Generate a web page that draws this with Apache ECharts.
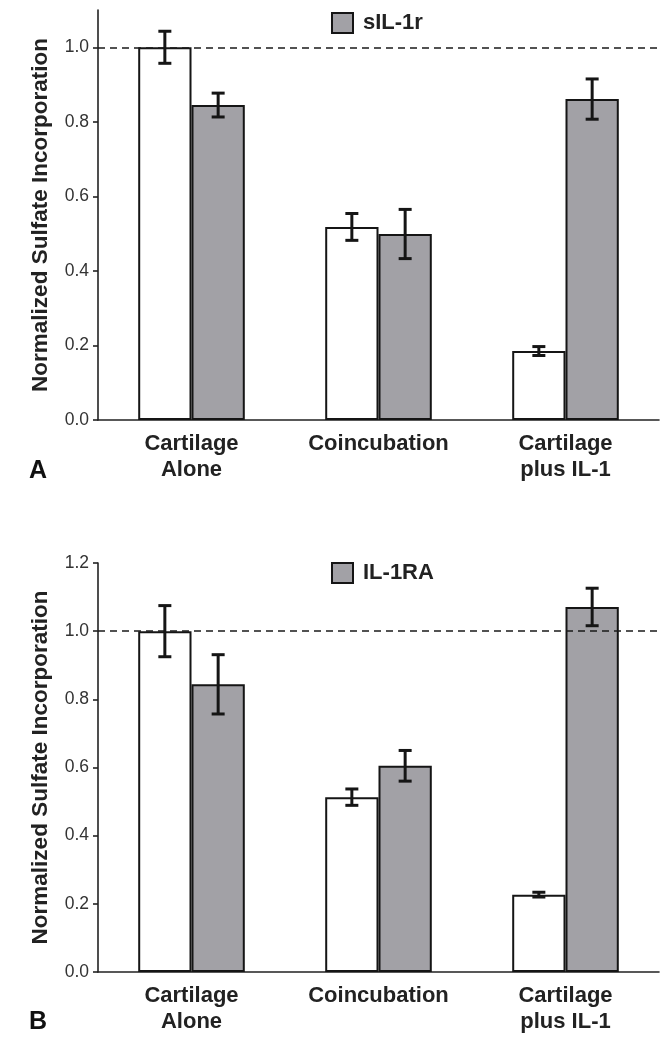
<!DOCTYPE html>
<html>
<head>
<meta charset="utf-8">
<script src="https://cdn.jsdelivr.net/npm/echarts@6/dist/echarts.min.js"></script>
<style>html,body{margin:0;padding:0;background:#fff}#c{width:668px;height:1050px}</style>
</head>
<body>
<div id="c"></div>
<script>
const categories = ['Cartilage\nAlone', 'Coincubation', 'Cartilage\nplus IL-1'];
// Panel A
const ctrlA = [1.0, 0.518, 0.185];
const ctrlAErr = [0.043, 0.036, 0.012];
const sIL1r = [0.845, 0.499, 0.861];
const sIL1rErr = [0.032, 0.066, 0.054];
// Panel B
const ctrlB = [1.0, 0.513, 0.227];
const ctrlBErr = [0.075, 0.024, 0.007];
const il1ra = [0.844, 0.605, 1.071];
const il1raErr = [0.087, 0.045, 0.055];
const yTicksA = [0, 0.2, 0.4, 0.6, 0.8, 1.0];
const yTicksB = [0, 0.2, 0.4, 0.6, 0.8, 1.0, 1.2];
const refLine = 1.0;

const FONT = '"Liberation Sans", Arial, sans-serif';
const GREY = '#a2a1a6';
const INK = '#151515';
const CAT_GAP = 0.43;

function errSeries(axisIdx, means, errs, side) {
  return {
    type: 'custom', xAxisIndex: axisIdx, yAxisIndex: axisIdx, z: 10, silent: true,
    data: means.map((m, i) => [i, m, errs[i]]),
    renderItem: function (params, api) {
      const i = api.value(0), m = api.value(1), e = api.value(2);
      const bandW = api.size([1, 0])[0];
      const barW = bandW * (1 - CAT_GAP) / 2;
      const cx = api.coord([i, m])[0] + side * barW / 2;
      const yt = api.coord([i, m + e])[1];
      const yb = api.coord([i, m - e])[1];
      const cap = 6.5;
      const st = { stroke: INK, lineWidth: 3 };
      return { type: 'group', children: [
        { type: 'line', shape: { x1: cx, y1: yt, x2: cx, y2: yb }, style: st },
        { type: 'line', shape: { x1: cx - cap, y1: yt, x2: cx + cap, y2: yt }, style: st },
        { type: 'line', shape: { x1: cx - cap, y1: yb, x2: cx + cap, y2: yb }, style: st }
      ]};
    }
  };
}

function barSeries(name, axisIdx, data, color, withRef) {
  const s = {
    name: name, type: 'bar', xAxisIndex: axisIdx, yAxisIndex: axisIdx,
    data: data, barGap: '0%', barCategoryGap: (CAT_GAP * 100) + '%',
    itemStyle: { color: color, borderColor: INK, borderWidth: 2 },
    silent: true
  };
  if (withRef) {
    s.markLine = {
      silent: true, symbol: ['none', 'none'], label: { show: false }, z: 5,
      lineStyle: { type: [7, 5], color: '#1a1a1a', width: 1.6 },
      data: [{ yAxis: refLine }]
    };
  }
  return s;
}

function xAx(idx) {
  return {
    type: 'category', gridIndex: idx, data: categories,
    axisLine: { lineStyle: { color: '#222', width: 1.6 } },
    axisTick: { show: false },
    axisLabel: { fontFamily: FONT, fontWeight: 'bold', fontSize: 22, lineHeight: 26, color: '#222', margin: 11, interval: 0 }
  };
}
function yAx(idx, max, ticks) {
  return {
    type: 'value', gridIndex: idx, min: 0, max: max, interval: 0.2,
    name: 'Normalized Sulfate Incorporation', nameLocation: 'middle', nameGap: 46,
    nameTextStyle: { fontFamily: FONT, fontWeight: 'bold', fontSize: 22.5, color: '#222' },
    axisLine: { show: true, lineStyle: { color: '#222', width: 1.6 } },
    axisTick: { show: true, length: 5, customValues: ticks, lineStyle: { color: '#222', width: 1.6 } },
    axisLabel: { customValues: ticks, fontFamily: FONT, fontSize: 17.5, color: '#333', margin: 9,
      formatter: v => v.toFixed(1) },
    splitLine: { show: false }
  };
}

const legendText = { fontFamily: FONT, fontWeight: 'bold', fontSize: 22, color: '#222', padding: [0, 0, 0, 5] };
const chart = echarts.init(document.getElementById('c'), null, { renderer: 'canvas' });
chart.setOption({
  animation: false,
  backgroundColor: '#fff',
  title: [
    { text: 'A', left: 29, top: 459, padding: 0, textStyle: { fontFamily: FONT, fontWeight: 'bold', fontSize: 25, color: '#111' } },
    { text: 'B', left: 29, top: 1010, padding: 0, textStyle: { fontFamily: FONT, fontWeight: 'bold', fontSize: 25, color: '#111' } }
  ],
  legend: [
    { data: ['sIL-1r'], left: 331, top: 12, padding: 0, itemWidth: 21, itemHeight: 20,
      icon: 'rect', itemStyle: { borderWidth: 2 }, textStyle: legendText },
    { data: ['IL-1RA'], left: 331, top: 562, padding: 0, itemWidth: 21, itemHeight: 20,
      icon: 'rect', itemStyle: { borderWidth: 2 }, textStyle: legendText }
  ],
  grid: [
    { left: 98, right: 9, top: 10, height: 410 },
    { left: 98, right: 9, top: 563, height: 409 }
  ],
  xAxis: [xAx(0), xAx(1)],
  yAxis: [yAx(0, 1.1, yTicksA), yAx(1, 1.2, yTicksB)],
  series: [
    barSeries('Cartilage A', 0, ctrlA, '#ffffff', true),
    barSeries('sIL-1r', 0, sIL1r, GREY, false),
    errSeries(0, ctrlA, ctrlAErr, -1),
    errSeries(0, sIL1r, sIL1rErr, 1),
    barSeries('Cartilage B', 1, ctrlB, '#ffffff', true),
    barSeries('IL-1RA', 1, il1ra, GREY, false),
    errSeries(1, ctrlB, ctrlBErr, -1),
    errSeries(1, il1ra, il1raErr, 1)
  ]
});
</script>
</body>
</html>
